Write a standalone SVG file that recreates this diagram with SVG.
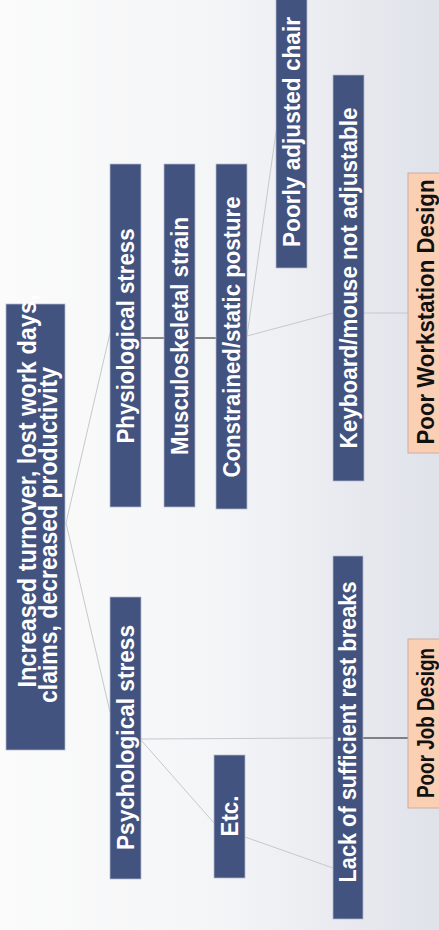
<svg xmlns="http://www.w3.org/2000/svg" width="439" height="930" viewBox="0 0 439 930">
<defs>
<linearGradient id="bg" x1="0" y1="0" x2="1" y2="0">
<stop offset="0" stop-color="#fbfbfb"/>
<stop offset="0.5" stop-color="#f4f5f7"/>
<stop offset="1" stop-color="#e0e2ea"/>
</linearGradient>
<style>
.n{fill:#435380;stroke:#b4b9c9;stroke-width:0.75}
.p{fill:#fbcfb4;stroke:#c9ada2;stroke-width:1}
.t{font-family:"Liberation Sans",Arial,sans-serif;font-weight:bold;font-size:23px;fill:#ffffff;text-anchor:middle}
.tb{fill:#111111;font-size:24px}
.r{font-size:25px}
.g{stroke:#c6c8cc;stroke-width:1;fill:none}
.k{stroke:#1a1a1a;stroke-width:1;fill:none}
</style>
</defs>
<rect x="0" y="0" width="439" height="930" fill="url(#bg)"/>
<g id="connectors">
<line class="g" x1="66" y1="523" x2="110" y2="333"/>
<line class="g" x1="66" y1="523" x2="110" y2="712"/>
<line class="k" x1="141" y1="338" x2="164" y2="338"/>
<line class="k" x1="195" y1="338" x2="216" y2="338"/>
<line class="g" x1="247" y1="336" x2="276" y2="132"/>
<line class="g" x1="247" y1="336" x2="333" y2="313"/>
<line class="g" x1="364" y1="313" x2="408" y2="313"/>
<line class="g" x1="141" y1="739" x2="333" y2="738"/>
<line class="g" x1="141" y1="740" x2="214" y2="823"/>
<line class="g" x1="245" y1="837" x2="333" y2="868"/>
<line class="k" x1="363" y1="738" x2="408" y2="738"/>
</g>
<g id="root">
<rect class="n" x="6" y="304" width="59" height="446"/>
<text class="t r" transform="translate(36,491) rotate(-90)" textLength="393" lengthAdjust="spacingAndGlyphs">Increased turnover, lost work days,</text>
<text class="t r" transform="translate(57,535) rotate(-90)" textLength="336" lengthAdjust="spacingAndGlyphs">claims, decreased productivity</text>
</g>
<g id="physiological">
<rect class="n" x="110" y="164" width="31" height="343"/>
<text class="t" transform="translate(134,336) rotate(-90)" textLength="215" lengthAdjust="spacingAndGlyphs">Physiological stress</text>
</g>
<g id="musculoskeletal">
<rect class="n" x="164" y="164" width="31" height="343"/>
<text class="t" transform="translate(188,336) rotate(-90)" textLength="238" lengthAdjust="spacingAndGlyphs">Musculoskeletal strain</text>
</g>
<g id="constrained">
<rect class="n" x="216" y="164" width="31" height="345"/>
<text class="t" transform="translate(240,337) rotate(-90)" textLength="281" lengthAdjust="spacingAndGlyphs">Constrained/static posture</text>
</g>
<g id="chair">
<rect class="n" x="276" y="-6" width="31" height="274"/>
<text class="t" transform="translate(300,132) rotate(-90)" textLength="230" lengthAdjust="spacingAndGlyphs">Poorly adjusted chair</text>
</g>
<g id="keyboard">
<rect class="n" x="333" y="75" width="31" height="406"/>
<text class="t" transform="translate(357,278) rotate(-90)" textLength="341" lengthAdjust="spacingAndGlyphs">Keyboard/mouse not adjustable</text>
</g>
<g id="workstation">
<rect class="p" x="408" y="173" width="40" height="280"/>
<text class="t tb" transform="translate(434,312) rotate(-90)" textLength="265" lengthAdjust="spacingAndGlyphs">Poor Workstation Design</text>
</g>
<g id="psychological">
<rect class="n" x="110" y="597" width="31" height="282"/>
<text class="t" transform="translate(134,737.5) rotate(-90)" textLength="225" lengthAdjust="spacingAndGlyphs">Psychological stress</text>
</g>
<g id="etc">
<rect class="n" x="214" y="755" width="31" height="123"/>
<text class="t" transform="translate(238,816) rotate(-90)" textLength="41" lengthAdjust="spacingAndGlyphs">Etc.</text>
</g>
<g id="restbreaks">
<rect class="n" x="333" y="556" width="30" height="363"/>
<text class="t" transform="translate(356,732) rotate(-90)" textLength="301" lengthAdjust="spacingAndGlyphs">Lack of sufficient rest breaks</text>
</g>
<g id="jobdesign">
<rect class="p" x="408" y="639" width="40" height="169"/>
<text class="t tb" transform="translate(434,723) rotate(-90)" textLength="150" lengthAdjust="spacingAndGlyphs">Poor Job Design</text>
</g>
</svg>
